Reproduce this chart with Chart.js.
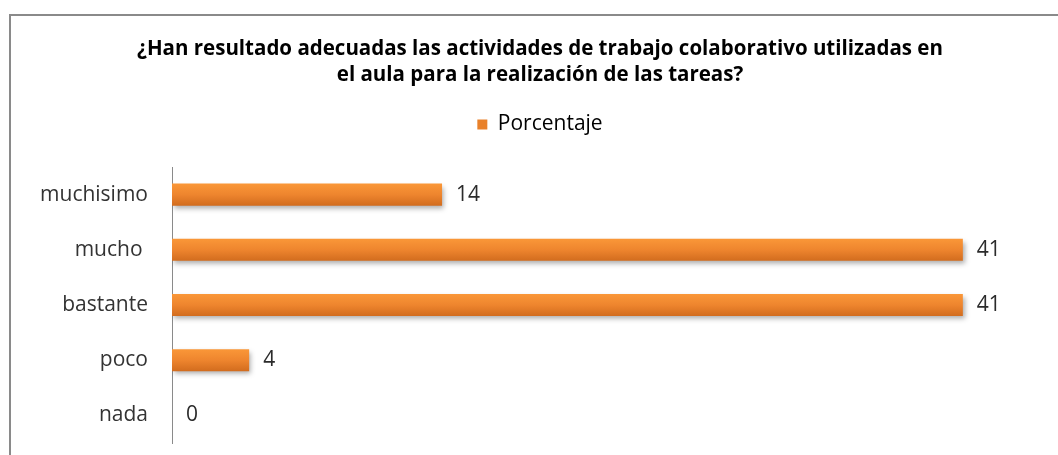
<!DOCTYPE html>
<html>
<head>
<meta charset="utf-8">
<script src="https://cdn.jsdelivr.net/npm/chart.js@4.4.1/dist/chart.umd.min.js"></script>
<style>
  body { margin: 0; background: #fff; overflow: hidden; }
  #wrap { position: absolute; left: 0; top: 0; width: 1080px; height: 455px; }
  #frame {
    position: absolute; left: 9px; top: 14px; width: 1100px; height: 500px;
    border-top: 2px solid #8a8a8a; border-left: 2px solid #8a8a8a;
    pointer-events: none;
  }
</style>
</head>
<body>
<div id="wrap"><canvas id="myChart"></canvas></div>
<div id="frame"></div>
<script>
const categorias = ["muchisimo", "mucho ", "bastante", "poco", "nada"];
const porcentaje = [14, 41, 41, 4, 0];
const tituloLineas = [
  "¿Han resultado adecuadas las actividades de trabajo colaborativo utilizadas en",
  "el aula para la realización de las tareas?"
];
const nombreSerie = "Porcentaje";

const naranja = "#E9812A";

// degradado vertical por barra, calculado con la escala y
function colorBarra(context) {
  const chart = context.chart;
  const y = chart.scales.y;
  if (!y || context.dataIndex === undefined) return naranja;
  const centro = y.getPixelForValue(context.dataIndex);
  const g = chart.ctx.createLinearGradient(0, centro - 11, 0, centro + 11);
  g.addColorStop(0, "#FA9738");
  g.addColorStop(0.5, "#EE852E");
  g.addColorStop(1, "#D26C1E");
  return g;
}

const sombraBarras = {
  id: "sombraBarras",
  beforeDatasetsDraw(chart) {
    const ctx = chart.ctx;
    ctx.save();
    ctx.shadowColor = "rgba(0,0,0,0.32)";
    ctx.shadowBlur = 5;
    ctx.shadowOffsetX = 2;
    ctx.shadowOffsetY = 3;
  },
  afterDatasetsDraw(chart) {
    chart.ctx.restore();
  }
};

const etiquetasValor = {
  id: "etiquetasValor",
  afterDatasetsDraw(chart) {
    const ctx = chart.ctx;
    const meta = chart.getDatasetMeta(0);
    ctx.save();
    ctx.font = "21px 'Open Sans'";
    ctx.fillStyle = "#2b2b2b";
    ctx.textAlign = "left";
    ctx.textBaseline = "middle";
    meta.data.forEach(function (bar, i) {
      ctx.fillText(String(porcentaje[i]), bar.x + 14, bar.y);
    });
    ctx.restore();
  }
};

const config = {
  type: "bar",
  data: {
    labels: categorias,
    datasets: [
      {
        label: nombreSerie,
        data: porcentaje,
        backgroundColor: colorBarra,
        borderWidth: 0,
        categoryPercentage: 0.8,
        barPercentage: 0.5,
      },
    ],
  },
  options: {
    indexAxis: "y",
    responsive: true,
    maintainAspectRatio: false,
    animation: false,
    layout: {
      padding: { left: 40, right: 40, top: 0, bottom: 12 },
    },
    plugins: {
      title: {
        display: true,
        text: tituloLineas,
        color: "#000",
        font: { family: "'Open Sans'", size: 20.5, weight: "bold", lineHeight: "26px" },
        padding: { top: 36, bottom: 16 },
      },
      legend: {
        display: true,
        position: "top",
        labels: {
          boxWidth: 10,
          boxHeight: 10,
          color: "#333",
          font: { family: "'Open Sans'", size: 21 },
          padding: 10,
          generateLabels: function () {
            return [{ text: nombreSerie, fillStyle: naranja, strokeStyle: naranja, lineWidth: 0, datasetIndex: 0 }];
          },
        },
      },
      tooltip: { enabled: false },
    },
    scales: {
      x: {
        position: "top",
        min: 0,
        max: 45,
        grid: { display: false, drawTicks: false },
        border: { display: false },
        ticks: { display: false },
        afterFit: function (scale) {
          scale.height = 22;
        },
      },
      y: {
        grid: { display: false, drawTicks: false },
        border: { display: true, color: "#8a8a8a", width: 1 },
        ticks: {
          color: "#333",
          padding: 24,
          font: { family: "'Open Sans'", size: 21 },
        },
        afterFit: function (scale) {
          scale.width = 132;
          scale.paddingTop = 0;
          scale.paddingBottom = 0;
        },
      },
    },
  },
  plugins: [sombraBarras, etiquetasValor],
};

const myChart = document.getElementById("myChart");
new Chart(myChart, config);
</script>
</body>
</html>
